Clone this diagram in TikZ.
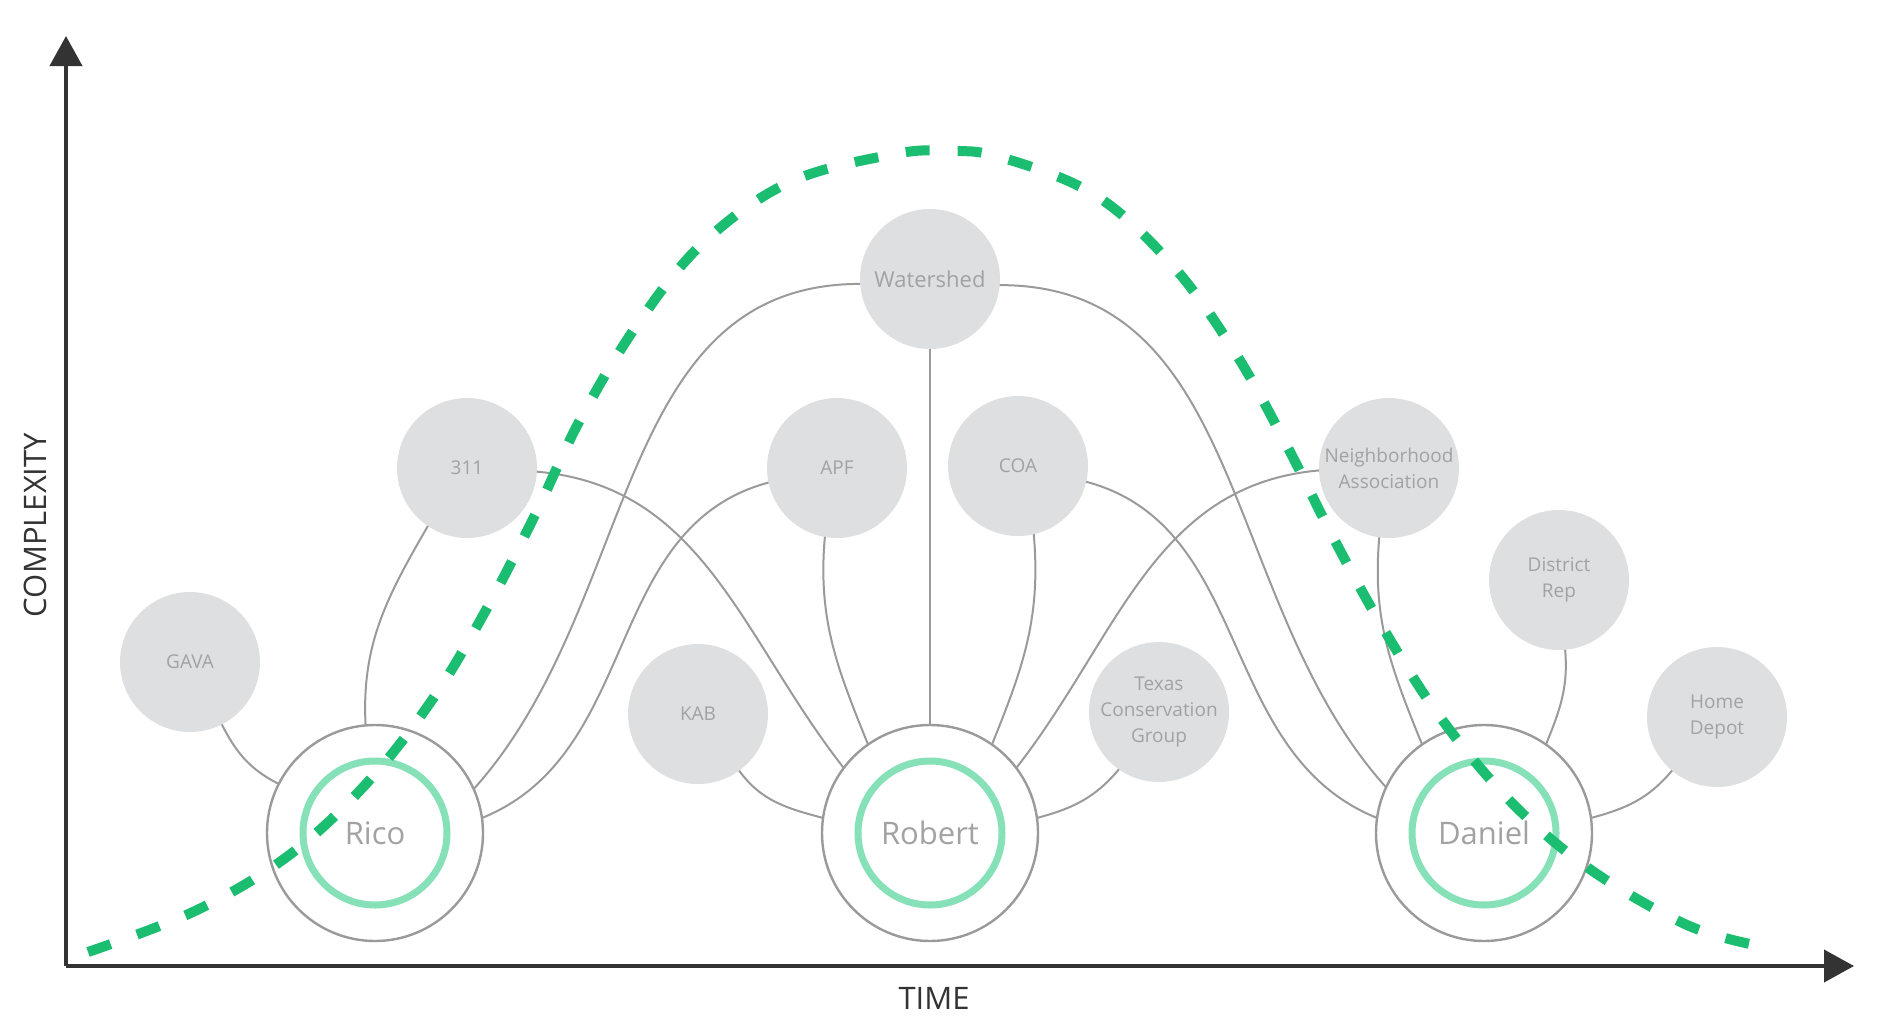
\documentclass[tikz,border=0pt]{standalone}
\usepackage{fontspec}
\setmainfont{Open Sans}
\usetikzlibrary{arrows.meta}
\definecolor{bubble}{HTML}{DEDFE1}
\definecolor{labelgray}{HTML}{A2A2A2}
\definecolor{linegray}{HTML}{9A9A9A}
\definecolor{ringgreen}{HTML}{86E0B8}
\definecolor{dashgreen}{RGB}{27,190,112}
\definecolor{axisgray}{HTML}{333333}
\begin{document}
\begin{tikzpicture}[x=0.5pt,y=-0.5pt,
  actor/.style={circle, fill=bubble, draw=none, minimum size=70pt, inner sep=0pt, outer sep=0pt,
    text=labelgray, font=\fontsize{9.5}{13}\selectfont, align=center},
  person/.style={circle, fill=white, draw=linegray, line width=1.2pt, minimum size=108pt, inner sep=0pt,
    outer sep=0pt, text=labelgray, font=\fontsize{15.5}{18}\selectfont},
  ring/.style={draw=ringgreen, line width=3.5pt},
  link/.style={draw=linegray, line width=1pt},
  axis/.style={draw=axisgray, line width=2pt},
  trend/.style={draw=dashgreen, line width=5pt, dash pattern=on 12pt off 14pt}]
\useasboundingbox (0,0) rectangle (1884,1028);
% axes
\coordinate (origin) at (66,966);
\coordinate (ytop) at (66,36);
\coordinate (xend) at (1854,966);
\draw [axis, -{Triangle[width=16pt,length=15pt]}] (origin) -- (ytop);
\draw [axis, -{Triangle[width=16pt,length=15pt]}] (origin) -- (xend);
\node [rotate=90, text=axisgray, font=\fontsize{15.5}{17}\selectfont] (ylabel) at (35,525) {COMPLEXITY};
\node [text=axisgray, font=\fontsize{15.5}{17}\selectfont] (xlabel) at (934,998) {TIME};
% people
\node [person] (rico) at (375,833) {Rico};
\node [person] (robert) at (930,833) {Robert};
\node [person] (daniel) at (1484,833) {Daniel};
\draw [ring] (rico.center) circle [radius=36pt];
\draw [ring] (robert.center) circle [radius=36pt];
\draw [ring] (daniel.center) circle [radius=36pt];
% stakeholders
\node [actor, font=\fontsize{11}{13}\selectfont] (watershed) at (930,279) {Watershed};
\node [actor] (gava) at (190,662) {GAVA};
\node [actor] (n311) at (467,468) {311};
\node [actor] (apf) at (837,468) {APF};
\node [actor] (kab) at (698,714) {KAB};
\node [actor] (coa) at (1018,466) {COA};
\node [actor] (texas) at (1159,712) {Texas\\Conservation\\Group};
\node [actor, text depth=-4pt] (neighborhood) at (1389,468) {Neighborhood\\Association};
\node [actor] (district) at (1559,580) {District\\Rep};
\node [actor] (homedepot) at (1717,717) {Home\\Depot};
% links
\draw [link] (gava.-63) to[out=-63, in=153] (rico.153);
\draw [link] (n311.-124) to[out=-120, in=93] (rico.95);
\draw [link] (watershed.184) to[out=180, in=48] (rico.24);
\draw [link] (apf.192) to[out=195, in=22] (rico.8);
\draw [link] (n311.-3) to[out=-5, in=128] (robert.143);
\draw [link] (kab.-54) to[out=-54, in=165] (robert.172);
\draw [link] (apf.-100) to[out=-95, in=112] (robert.125);
\draw [link] (watershed.270) -- (robert.90);
\draw [link] (coa.-77) to[out=-85, in=68] (robert.55);
\draw [link] (neighborhood.182) to[out=185, in=52] (robert.37);
\draw [link] (texas.-125) to[out=-130, in=15] (robert.8);
\draw [link] (watershed.-5) to[out=0, in=132] (daniel.155);
\draw [link] (coa.-13) to[out=-15, in=158] (daniel.172);
\draw [link] (neighborhood.-98) to[out=-95, in=112] (daniel.125);
\draw [link] (district.-85) to[out=-85, in=68] (daniel.55);
\draw [link] (homedepot.-130) to[out=-130, in=15] (daniel.8);
% trend curve
\draw [trend] plot [smooth, tension=0.6] coordinates {(88,952) (195,911) (288,856) (366,784) (432,700)
  (486,610) (535,515) (580,420) (637,325) (703,243) (790,182) (895,154) (948,151) (1000,157)
  (1095,195) (1173,266) (1236,354) (1287,446) (1335,541) (1386,633) (1443,721) (1516,807)
  (1594,872) (1687,925) (1755,945)};
\end{tikzpicture}
\end{document}
